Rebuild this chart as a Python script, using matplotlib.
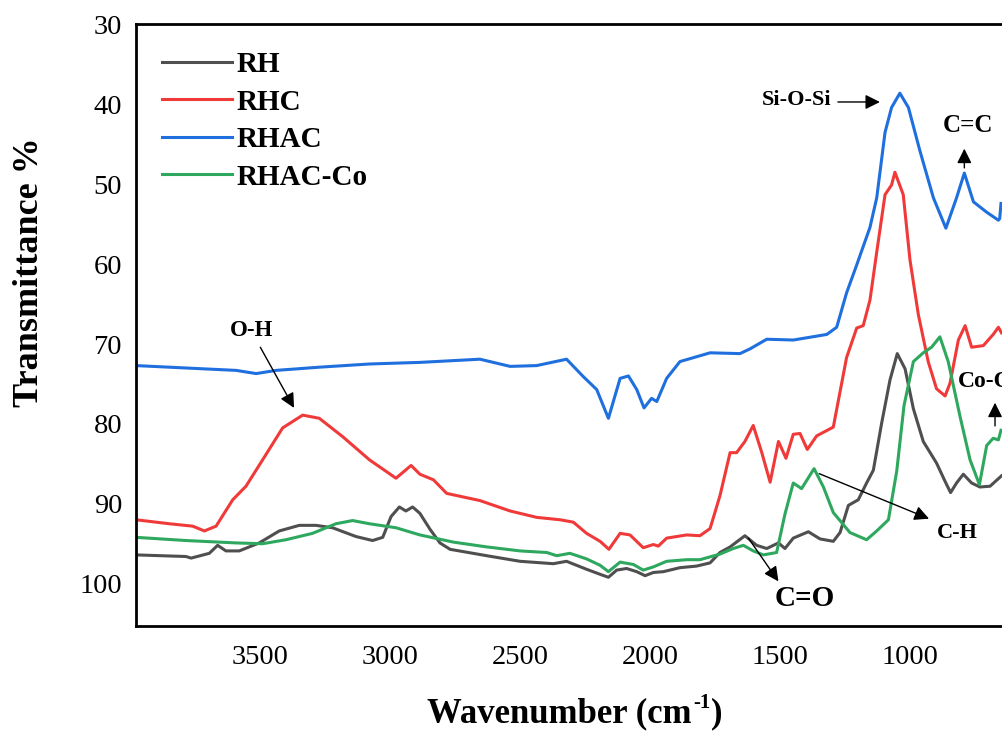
import matplotlib
matplotlib.use("Agg")
import matplotlib.pyplot as plt
from matplotlib.transforms import offset_copy

plt.rcParams['font.family'] = ['Liberation Serif', 'DejaVu Serif']

# ---------------- data ----------------
rh_wn = [3977, 3785, 3765, 3695, 3663, 3631, 3580, 3503, 3426, 3349, 3285, 3221, 3131, 3067, 3028, 2996,
         2964, 2939, 2913, 2885, 2846, 2808, 2769, 2628, 2500, 2372, 2321, 2244, 2186, 2160, 2128, 2090,
         2051, 2019, 1987, 1949, 1885, 1821, 1769, 1731, 1692, 1635, 1590, 1551, 1506, 1481, 1449, 1391,
         1346, 1295, 1269, 1237, 1199, 1167, 1141, 1109, 1077, 1049, 1019, 987, 949, 898, 865, 844, 821,
         795, 763, 731, 692, 648]
rh_t = [96.4, 96.6, 96.8, 96.2, 95.2, 95.9, 95.9, 94.9, 93.4, 92.7, 92.7, 93.0, 94.1, 94.6, 94.2, 91.6,
        90.4, 90.9, 90.4, 91.2, 93.2, 94.9, 95.7, 96.5, 97.2, 97.5, 97.2, 98.2, 98.9, 99.2, 98.3, 98.1,
        98.5, 99.0, 98.6, 98.5, 98.0, 97.8, 97.4, 96.1, 95.4, 94.0, 95.2, 95.6, 94.9, 95.6, 94.3, 93.5,
        94.4, 94.7, 93.6, 90.2, 89.5, 87.4, 85.8, 79.9, 74.5, 71.2, 73.1, 78.1, 82.2, 84.9, 87.2, 88.6, 87.4,
        86.3, 87.4, 87.9, 87.8, 86.5]

rhc_wn = [3977, 3849, 3759, 3714, 3669, 3605, 3554, 3490, 3413, 3336, 3272, 3182, 3079, 2977, 2919, 2885,
          2833, 2782, 2654, 2538, 2436, 2346, 2295, 2244, 2192, 2158, 2115, 2077, 2026, 1987, 1968, 1936,
          1859, 1808, 1769, 1731, 1692, 1667, 1635, 1603, 1570, 1538, 1506, 1477, 1449, 1423, 1395, 1359,
          1295, 1244, 1205, 1180, 1154, 1128, 1096, 1071, 1058, 1026, 1000, 968, 930, 898, 865, 846, 814,
          788, 763, 718, 680, 660, 648]
rhc_t = [92.0, 92.5, 92.8, 93.4, 92.8, 89.5, 87.8, 84.5, 80.5, 78.9, 79.3, 81.6, 84.5, 86.8, 85.2, 86.3,
         87.0, 88.7, 89.6, 90.9, 91.7, 92.0, 92.3, 93.7, 94.7, 95.7, 93.7, 93.9, 95.5, 95.1, 95.3, 94.3,
         93.9, 94.0, 93.1, 89.0, 83.6, 83.6, 82.2, 80.2, 83.6, 87.3, 82.2, 84.3, 81.3, 81.2, 83.2, 81.5,
         80.4, 71.7, 68.0, 67.7, 64.5, 58.5, 51.3, 50.1, 48.5, 51.3, 59.5, 66.3, 72.2, 75.6, 76.5, 74.9, 69.5,
         67.7, 70.4, 70.2, 68.8, 67.9, 68.6]

rhac_wn = [3977, 3721, 3592, 3515, 3438, 3272, 3079, 2885, 2654, 2538, 2436, 2321, 2256, 2205, 2160, 2115,
           2083, 2051, 2023, 1994, 1974, 1936, 1885, 1769, 1654, 1615, 1551, 1449, 1320, 1282, 1244, 1205,
           1154, 1128, 1096, 1071, 1039, 1006, 962, 910, 862, 821, 791, 756, 705, 660, 655, 650]
rhac_t = [72.7, 73.1, 73.3, 73.7, 73.3, 72.9, 72.5, 72.3, 71.9, 72.8, 72.7, 71.9, 74.1, 75.7, 79.3, 74.3,
          74.0, 75.7, 78.0, 76.8, 77.2, 74.3, 72.2, 71.1, 71.2, 70.6, 69.4, 69.5, 68.8, 67.9, 63.6, 60.1,
          55.4, 51.7, 43.5, 40.4, 38.6, 40.4, 45.8, 51.7, 55.5, 51.7, 48.6, 52.2, 53.5, 54.5, 54.3, 52.4]

rhacco_wn = [3977, 3785, 3592, 3490, 3400, 3298, 3208, 3144, 3079, 2977, 2885, 2756, 2628, 2500, 2397, 2359,
             2308, 2244, 2192, 2160, 2115, 2064, 2026, 1987, 1936, 1859, 1808, 1731, 1680, 1641, 1603, 1564,
             1513, 1481, 1449, 1417, 1369, 1333, 1295, 1231, 1167, 1128, 1083, 1051, 1023, 987, 949, 917,
             885, 853, 808, 769, 733, 705, 680, 660, 650]
rhacco_t = [94.2, 94.6, 94.9, 95.0, 94.5, 93.7, 92.5, 92.1, 92.5, 93.0, 93.9, 94.8, 95.4, 95.9, 96.1, 96.5,
            96.2, 96.9, 97.7, 98.5, 97.3, 97.6, 98.3, 97.9, 97.2, 97.0, 97.0, 96.3, 95.6, 95.2, 95.9, 96.4,
            96.1, 91.3, 87.4, 88.1, 85.6, 87.9, 91.1, 93.6, 94.5, 93.4, 92.0, 85.9, 77.7, 72.2, 71.1, 70.4,
            69.1, 72.2, 79.0, 84.5, 87.6, 82.7, 81.8, 82.0, 80.8]

labels = ['RH', 'RHC', 'RHAC', 'RHAC-Co']
colors = ['#4f4f4f', '#f03a3a', '#1f6fde', '#2da85e']
xticks = [3500, 3000, 2500, 2000, 1500, 1000]
yticks = [30, 40, 50, 60, 70, 80, 90, 100]

# ---------------- figure ----------------
fig = plt.figure(figsize=(10.03, 7.31), dpi=100)
ax = fig.add_axes([136 / 1003, 105 / 731, 878 / 1003, 601.5 / 731])

series = [(rh_wn, rh_t), (rhc_wn, rhc_t), (rhac_wn, rhac_t), (rhacco_wn, rhacco_t)]
for (wn, t), lab, col in zip(series, labels, colors):
    ax.plot(wn, t, color=col, lw=2.2, label=lab, solid_joinstyle='round')

ax.set_xlim(3977, 600)
ax.set_ylim(105.3, 30)
ax.set_xticks(xticks)
ax.set_yticks(yticks)
ax.tick_params(axis='both', length=0, labelsize=20.5)
ax.tick_params(axis='x', pad=14)
ax.tick_params(axis='y', pad=10)
for s in ax.spines.values():
    s.set_linewidth(2.0)

leg = ax.legend(loc='upper left', bbox_to_anchor=(0.01, 0.985), frameon=False,
                prop={'weight': 'bold', 'size': 21}, handlelength=2.4, handletextpad=0.15,
                labelspacing=0.36, borderaxespad=0.2)

fig.text(30 / 1003, 1 - 272 / 731, 'Transmittance %', rotation=90, ha='center', va='center',
         fontsize=26, fontweight='bold')

# x label with a small raised "-1", laid out piece by piece
renderer = fig.canvas.get_renderer()
y_base = 1 - 714 / 731
t1 = fig.text(0, y_base, 'Wavenumber (cm', ha='left', va='center', fontsize=25, fontweight='bold')
t2 = fig.text(0, y_base, '-1', ha='left', va='center', fontsize=15, fontweight='bold')
t3 = fig.text(0, y_base, ')', ha='left', va='center', fontsize=25, fontweight='bold')
w1 = t1.get_window_extent(renderer).width
w2 = t2.get_window_extent(renderer).width
w3 = t3.get_window_extent(renderer).width
total = w1 + w2 + w3 + 2
x0 = 575 - total / 2
t1.set_x(x0 / 1003)
t2.set_x((x0 + w1 + 1) / 1003)
t2.set_y(1 - 703 / 731)
t3.set_x((x0 + w1 + w2 + 2) / 1003)

akw = dict(arrowstyle='-|>', color='black', lw=1.0, mutation_scale=22)
# O-H
ax.text(3531, 68.3, 'O-H', ha='center', va='center', fontsize=16.5, fontweight='bold')
ax.annotate('', xy=(3364, 78.3), xytext=(3504, 70.1), arrowprops=akw)
# Si-O-Si
ax.text(1436, 39.4, 'Si-O-Si', ha='center', va='center', fontsize=16, fontweight='bold')
ax.annotate('', xy=(1105, 39.7), xytext=(1288, 39.7), arrowprops=akw)
# C=C
ax.text(778, 42.6, 'C=C', ha='center', va='center', fontsize=18, fontweight='bold')
ax.annotate('', xy=(791, 45.2), xytext=(791, 48.3), arrowprops=akw)
# Co-O (cut by the right edge, as in the original)
ax.text(815, 74.7, 'Co-O', ha='left', va='center', fontsize=17, fontweight='bold')
ax.annotate('', xy=(673, 77.0), xytext=(673, 80.6), arrowprops=akw)
# C-H
ax.text(817, 93.6, 'C-H', ha='center', va='center', fontsize=16, fontweight='bold')
ax.annotate('', xy=(917, 92.0), xytext=(1359, 86.1), arrowprops=akw)
# C=O
ax.text(1404, 101.8, 'C=O', ha='center', va='center', fontsize=21, fontweight='bold')
ax.annotate('', xy=(1500, 100.0), xytext=(1628, 94.0), arrowprops=akw)

fig.savefig('out.png', dpi=100)
